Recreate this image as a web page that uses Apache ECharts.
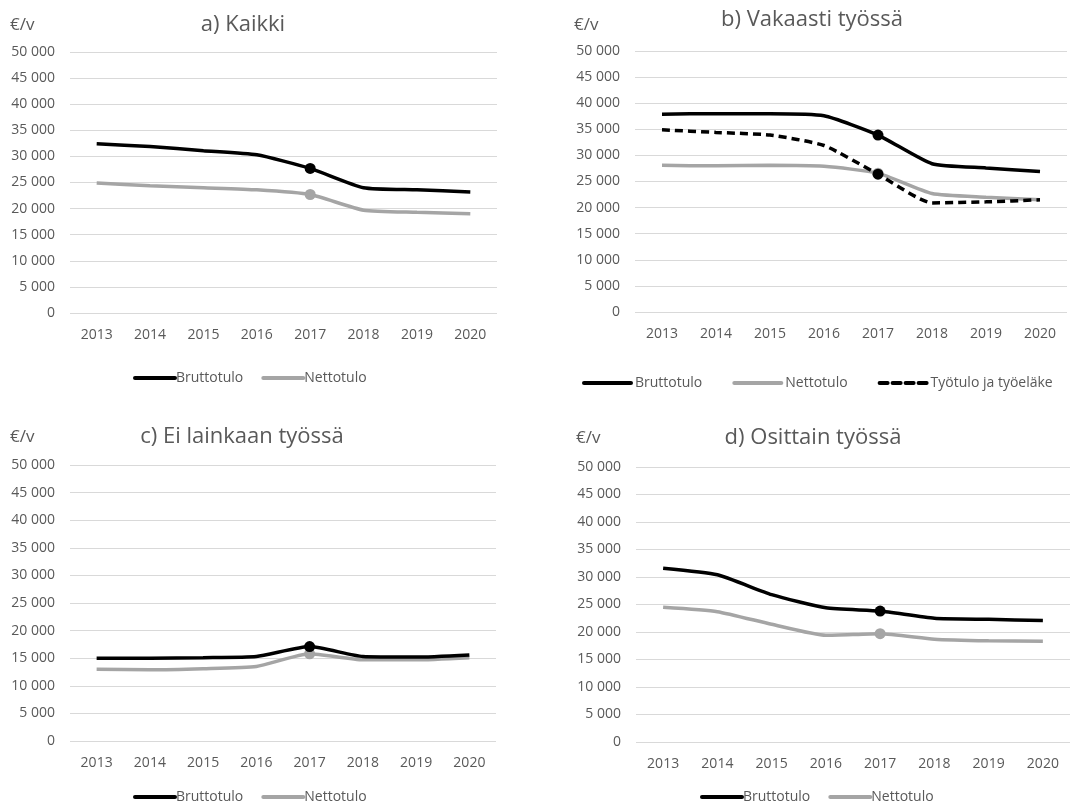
<!DOCTYPE html>
<html>
<head>
<meta charset="utf-8">
<script src="https://cdn.jsdelivr.net/npm/echarts@6/dist/echarts.min.js"></script>
<style>
  html, body { margin: 0; padding: 0; background: #fff; }
  #chart { width: 1079px; height: 803px; }
</style>
</head>
<body>
<div id="chart"></div>
<script>
  var years = ['2013', '2014', '2015', '2016', '2017', '2018', '2019', '2020'];
  var yTicks = [0, 5000, 10000, 15000, 20000, 25000, 30000, 35000, 40000, 45000, 50000];

  // a) Kaikki
  var kaikkiBrutto = [32400, 31900, 31100, 30300, 27700, 24000, 23600, 23200];
  var kaikkiNetto = [24900, 24400, 24000, 23600, 22700, 19700, 19300, 19000];
  // b) Vakaasti työssä
  var vakaaBrutto = [37900, 38000, 38000, 37600, 33900, 28400, 27600, 26900];
  var vakaaNetto = [28100, 28000, 28100, 27900, 26600, 22700, 22000, 21500];
  var vakaaTyotulo = [34900, 34400, 33900, 31900, 26400, 20900, 21100, 21500];
  // c) Ei lainkaan työssä
  var eiBrutto = [15000, 15000, 15100, 15300, 17100, 15300, 15200, 15600];
  var eiNetto = [13000, 12900, 13100, 13500, 15800, 14700, 14700, 15100];
  // d) Osittain työssä
  var osBrutto = [31600, 30400, 26800, 24400, 23800, 22500, 22300, 22100];
  var osNetto = [24500, 23700, 21400, 19400, 19700, 18700, 18400, 18300];

  var markIdx = 4; // 2017 on merkitty pallolla

  var FONT = '"Open Sans", sans-serif';
  var TXT = '#595959';
  var BLACK = '#000000';
  var GREY = '#a5a5a5';

  var grids = [
    { left: 70, width: 427, top: 52, height: 261 },
    { left: 635, width: 432, top: 51, height: 261 },
    { left: 70, width: 426, top: 465, height: 276 },
    { left: 636, width: 434, top: 467, height: 275 }
  ];

  function fmt(v) {
    return String(v).replace(/\B(?=(\d{3})+(?!\d))/g, ' ');
  }

  var xAxes = grids.map(function (g, i) {
    return {
      type: 'category', gridIndex: i, data: years, boundaryGap: true,
      axisLine: { show: false }, axisTick: { show: false },
      axisLabel: { color: TXT, fontFamily: FONT, fontSize: 14, margin: 15 }
    };
  });

  var yAxes = grids.map(function (g, i) {
    return {
      type: 'value', gridIndex: i, min: yTicks[0], max: yTicks[yTicks.length - 1],
      interval: yTicks[1] - yTicks[0],
      axisLine: { show: false }, axisTick: { show: false },
      axisLabel: { color: TXT, fontFamily: FONT, fontSize: 14, margin: 15, formatter: fmt },
      splitLine: { lineStyle: { color: '#d9d9d9', width: 1 } }
    };
  });

  function line(name, data, idx, color, dashed) {
    return {
      name: name, type: 'line', xAxisIndex: idx, yAxisIndex: idx, data: data,
      smooth: 0.18, symbol: 'circle',
      symbolSize: function (v, p) { return p.dataIndex === markIdx ? 11 : 0; },
      itemStyle: { color: color },
      lineStyle: { color: color, width: 3.5, type: dashed ? [8, 5] : 'solid' },
      z: dashed ? 4 : (color === BLACK ? 3 : 2)
    };
  }

  var series = [
    line('Bruttotulo', kaikkiBrutto, 0, BLACK),
    line('Nettotulo', kaikkiNetto, 0, GREY),
    line('Bruttotulo', vakaaBrutto, 1, BLACK),
    line('Nettotulo', vakaaNetto, 1, GREY),
    line('Työtulo ja työeläke', vakaaTyotulo, 1, BLACK, true),
    line('Bruttotulo', eiBrutto, 2, BLACK),
    line('Nettotulo', eiNetto, 2, GREY),
    line('Bruttotulo', osBrutto, 3, BLACK),
    line('Nettotulo', osNetto, 3, GREY)
  ];

  function legend(names, left, top, w, gap, textPad) {
    return {
      data: names, left: left, top: top, padding: 0,
      itemWidth: w, itemHeight: 10, itemGap: gap,
      selectedMode: false,
      itemStyle: { opacity: 0 },
      lineStyle: { width: 4, cap: 'round' },
      textStyle: { color: TXT, fontFamily: FONT, fontSize: 14, padding: [0, 0, 0, textPad] }
    };
  }

  var titles = [
    ['a) Kaikki', 243, 25],
    ['b) Vakaasti työssä', 812, 20],
    ['c) Ei lainkaan työssä', 242, 437],
    ['d) Osittain työssä', 813, 438]
  ];
  var units = [[10, 25], [574, 25], [10, 437], [576, 438]];

  var graphics = [];
  titles.forEach(function (t) {
    graphics.push({
      type: 'text', x: t[1], y: t[2],
      style: { text: t[0], fill: TXT, font: '22px ' + FONT, align: 'center', verticalAlign: 'middle',
               textAlign: 'center', textVerticalAlign: 'middle' }
    });
  });
  units.forEach(function (u) {
    graphics.push({
      type: 'text', x: u[0], y: u[1],
      style: { text: '€/v', fill: TXT, font: '17px ' + FONT, align: 'left', verticalAlign: 'middle',
               textAlign: 'left', textVerticalAlign: 'middle' }
    });
  });

  var myChart = echarts.init(document.getElementById('chart'));
  myChart.setOption({
    animation: false,
    backgroundColor: '#ffffff',
    grid: grids,
    xAxis: xAxes,
    yAxis: yAxes,
    legend: [
      legend(['Bruttotulo', 'Nettotulo'], 133, 371, 40, 18, -4),
      legend(['Bruttotulo', 'Nettotulo', 'Työtulo ja työeläke'], 582, 376, 47, 30, -1),
      legend(['Bruttotulo', 'Nettotulo'], 133, 790, 40, 18, -4),
      legend(['Bruttotulo', 'Nettotulo'], 700, 790, 40, 18, -4)
    ],
    graphic: graphics,
    series: series
  });
</script>
</body>
</html>
